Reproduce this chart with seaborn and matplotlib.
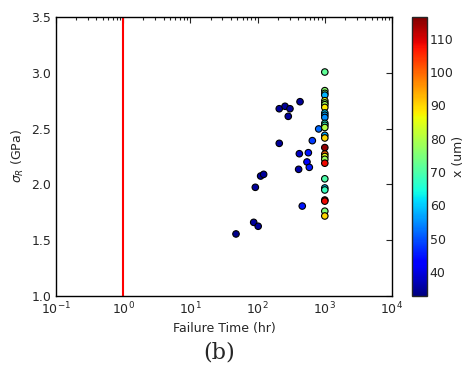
import numpy as np
import pandas as pd
import matplotlib
matplotlib.use("Agg")
import matplotlib.pyplot as plt
import seaborn as sns
from matplotlib.colors import Normalize
from matplotlib.cm import ScalarMappable

# ---- data ----
failure_time = [47.7, 87.5, 102, 92.5, 111, 123, 210, 210, 256, 303, 286, 428,
                462, 811, 652, 418, 569, 543, 588, 408,
                1000, 1000, 1000, 1000, 1000, 1000, 1000, 1000, 1000, 1000,
                1000, 1000, 1000, 1000, 1000, 1000, 1000, 1000, 1000, 1000,
                1000, 1000, 1000, 1000, 1000, 1000, 1000, 1000]
sigma_r = [1.556, 1.66, 1.625, 1.974, 2.075, 2.09, 2.368, 2.678, 2.70, 2.678, 2.61, 2.741,
           1.806, 2.497, 2.392, 2.275, 2.284, 2.201, 2.153, 2.135,
           3.007, 2.84, 2.816, 2.80, 2.75, 2.73, 2.714, 2.69, 2.64, 2.62,
           2.60, 2.547, 2.53, 2.51, 2.44, 2.416, 2.33, 2.272, 2.25, 2.225,
           2.19, 2.05, 1.968, 1.95, 1.86, 1.85, 1.76, 1.717]
x_um = [34, 35, 35, 35, 35, 35, 35, 35, 35, 35, 35, 35,
        45, 52, 48, 38, 45, 42, 45, 36,
        72, 76, 74, 58, 85, 76, 78, 88, 60, 57,
        55, 65, 68, 80, 57, 90, 115, 100, 85, 78,
        108, 70, 60, 68, 115, 108, 75, 90]
x_ticks = [0.1, 1, 10, 100, 1000, 10000]
y_ticks = [1.0, 1.5, 2.0, 2.5, 3.0, 3.5]
cbar_ticks = [40, 50, 60, 70, 80, 90, 100, 110]
threshold_time = 1.0

df = pd.DataFrame({"t": failure_time, "s": sigma_r, "x": x_um})

sns.set_style("white")
plt.rcParams["font.family"] = ["DejaVu Sans"]
plt.rcParams["xtick.direction"] = "in"
plt.rcParams["ytick.direction"] = "in"
plt.rcParams["mathtext.fontset"] = "dejavusans"

FS = 9

fig = plt.figure(figsize=(4.66, 3.68), dpi=100)
ax = fig.add_axes([56/466, 1 - 296/368, 336/466, 279/368])
cax = fig.add_axes([412/466, 1 - 296/368, 15/466, 279/368])

vmin, vmax = 32.8, 116.5
norm = Normalize(vmin=vmin, vmax=vmax)
cmap = plt.get_cmap("jet")

ax.axvline(threshold_time, color="red", lw=1.5, zorder=1)
sns.scatterplot(data=df, x="t", y="s", hue="x", palette=cmap, hue_norm=norm,
                s=22, edgecolor="black", linewidth=0.8, legend=False, ax=ax, zorder=3)

ax.set_xscale("log")
ax.set_xlim(0.1, 10000)
ax.set_ylim(1.0, 3.5)
ax.set_xticks(x_ticks)
ax.set_yticks(y_ticks)
ax.set_yticklabels([f"{v:.1f}" for v in y_ticks])
ax.tick_params(which="both", top=True, right=True, labelsize=FS, width=0.8)
ax.tick_params(which="major", length=4)
ax.tick_params(which="minor", length=2)
ax.set_xlabel("Failure Time (hr)", fontsize=FS, labelpad=3)
ax.set_ylabel(r"$\sigma_R$ (GPa)", fontsize=FS)
for sp in ax.spines.values():
    sp.set_color("black")
    sp.set_linewidth(1.0)

sm = ScalarMappable(norm=norm, cmap=cmap)
cb = fig.colorbar(sm, cax=cax, ticks=cbar_ticks)
cb.ax.tick_params(labelsize=FS, direction="in", length=4, pad=2)
cb.set_label("x (um)", fontsize=FS, labelpad=-1)
cb.outline.set_linewidth(1.0)

fig.text(219/466, 1 - 352/368, "(b)", ha="center", va="center",
         fontsize=16, family="DejaVu Serif")

fig.savefig("out.png", dpi=100)
